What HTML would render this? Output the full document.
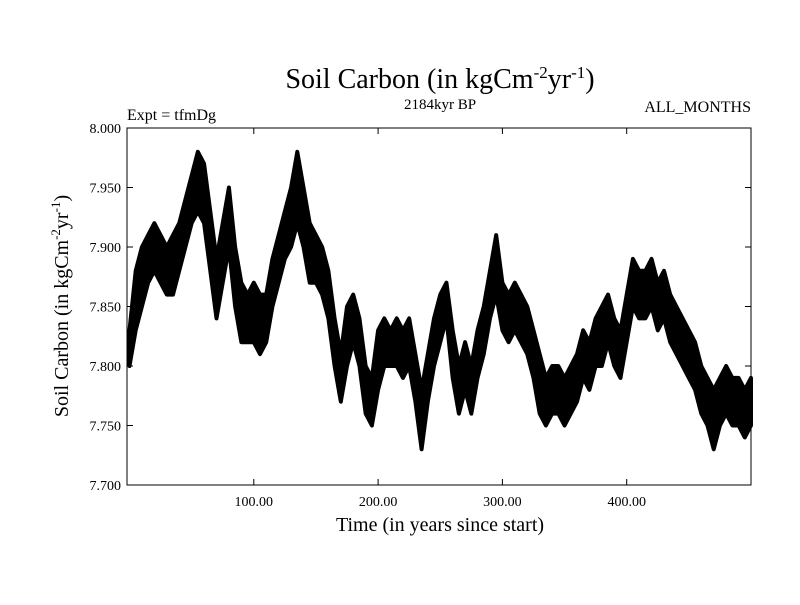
<!DOCTYPE html>
<html><head><meta charset="utf-8"><style>
body{margin:0;background:#fff}
svg text{font-family:"Liberation Serif",serif;fill:#000}
</style></head><body>
<svg width="800" height="600">
<text x="440" y="88" font-size="28" text-anchor="middle">Soil Carbon (in kgCm<tspan dy="-10" font-size="17">-2</tspan><tspan dy="10">yr</tspan><tspan dy="-10" font-size="17">-1</tspan><tspan dy="10">)</tspan></text>
<text x="127" y="120" font-size="16">Expt = tfmDg</text>
<text x="440" y="109" font-size="15" text-anchor="middle">2184kyr BP</text>
<text x="751" y="112" font-size="16" text-anchor="end">ALL_MONTHS</text>
<g id="plot"></g>
<rect x="127" y="128" width="624" height="357" fill="none" stroke="#000" stroke-width="1"/>
<text x="440" y="531" font-size="20" text-anchor="middle">Time (in years since start)</text>
<text transform="translate(68,306) rotate(-90)" font-size="20" text-anchor="middle">Soil Carbon (in kgCm<tspan dy="-8" font-size="13">-2</tspan><tspan dy="8">yr</tspan><tspan dy="-8" font-size="13">-1</tspan><tspan dy="8">)</tspan></text>
</svg>
<script>
const years=[];for(let i=0;i<=100;i++)years.push(i*5);
const lowVals=[7.80,7.83,7.85,7.87,7.88,7.87,7.86,7.86,7.88,7.90,7.92,7.93,7.92,7.88,7.84,7.87,7.90,7.85,7.82,7.82,7.82,7.81,7.82,7.85,7.87,7.89,7.90,7.92,7.90,7.87,7.87,7.86,7.84,7.80,7.77,7.80,7.82,7.80,7.76,7.75,7.78,7.80,7.80,7.80,7.79,7.80,7.77,7.73,7.77,7.80,7.82,7.84,7.79,7.76,7.78,7.76,7.79,7.81,7.84,7.86,7.83,7.82,7.83,7.82,7.81,7.79,7.76,7.75,7.76,7.76,7.75,7.76,7.77,7.79,7.78,7.80,7.80,7.82,7.80,7.79,7.82,7.85,7.84,7.84,7.85,7.83,7.84,7.82,7.81,7.80,7.79,7.78,7.76,7.75,7.73,7.75,7.76,7.75,7.75,7.74,7.75];
const highVals=[7.83,7.88,7.90,7.91,7.92,7.91,7.90,7.91,7.92,7.94,7.96,7.98,7.97,7.93,7.89,7.92,7.95,7.90,7.87,7.86,7.87,7.86,7.86,7.89,7.91,7.93,7.95,7.98,7.95,7.92,7.91,7.90,7.88,7.84,7.81,7.85,7.86,7.84,7.80,7.79,7.83,7.84,7.83,7.84,7.83,7.84,7.81,7.78,7.81,7.84,7.86,7.87,7.83,7.80,7.82,7.80,7.83,7.85,7.88,7.91,7.87,7.86,7.87,7.86,7.85,7.83,7.81,7.79,7.80,7.80,7.79,7.80,7.81,7.83,7.82,7.84,7.85,7.86,7.84,7.83,7.86,7.89,7.88,7.88,7.89,7.87,7.88,7.86,7.85,7.84,7.83,7.82,7.80,7.79,7.78,7.79,7.80,7.79,7.79,7.78,7.79];
const yTicks=[7.70,7.75,7.80,7.85,7.90,7.95,8.00];
const xTicks=[100,200,300,400];
const X0=127,X1=751,Y0=485,Y1=128,XMIN=-2,XMAX=500,YMIN=7.7,YMAX=8.0;
const sx=v=>X0+(v-XMIN)/(XMAX-XMIN)*(X1-X0);
const sy=v=>Y0-(v-YMIN)/(YMAX-YMIN)*(Y0-Y1);
const NS="http://www.w3.org/2000/svg",g=document.getElementById('plot');
function mk(t,a){const e=document.createElementNS(NS,t);for(const k in a)e.setAttribute(k,a[k]);g.appendChild(e);return e;}
let pts=years.map((y,i)=>sx(y)+','+sy(highVals[i]));
for(let i=years.length-1;i>=0;i--)pts.push(sx(years[i])+','+sy(lowVals[i]));
const band=mk('polygon',{points:pts.join(' '),fill:'#000',stroke:'#000','stroke-width':4,'stroke-linejoin':'round'});


yTicks.forEach(v=>{
 const l=mk('line',{x1:X0,x2:X0+6,y1:sy(v),y2:sy(v),stroke:'#000'});
 
 
 const r=mk('line',{x1:X1-6,x2:X1,y1:sy(v),y2:sy(v),stroke:'#000'});
 
 
 const t=mk('text',{x:X0-6,y:sy(v)+5,'font-size':14,'text-anchor':'end'});t.textContent=v.toFixed(3);
 
 
});
xTicks.forEach(v=>{
 const l=mk('line',{x1:sx(v),x2:sx(v),y1:Y0,y2:Y0-6,stroke:'#000'});
 
 
 const r=mk('line',{x1:sx(v),x2:sx(v),y1:Y1,y2:Y1+6,stroke:'#000'});
 
 
 const t=mk('text',{x:sx(v),y:Y0+21,'font-size':14,'text-anchor':'middle'});t.textContent=v.toFixed(2);
 
 
});
</script>
</body></html>
